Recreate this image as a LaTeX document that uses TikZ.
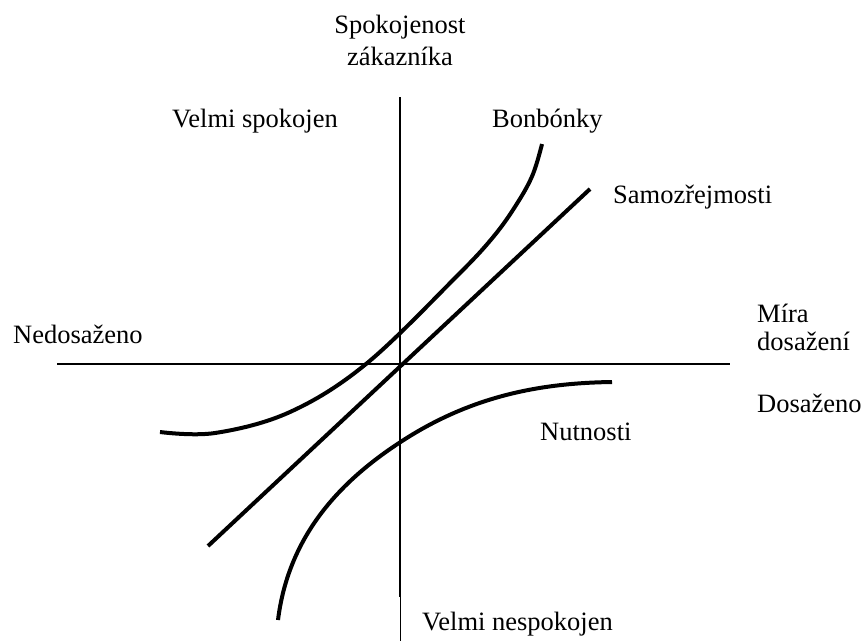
\documentclass[tikz,border=0pt]{standalone}
\usepackage{fontspec}
\setmainfont{Liberation Serif}
\begin{document}
\begin{tikzpicture}[x=1pt,y=-1pt,
  lbl/.style={inner sep=0pt,font=\fontsize{26.5}{32}\selectfont},
  axis/.style={line width=1.6pt,black},
  curve/.style={line width=4pt,black}]
\useasboundingbox (0,0) rectangle (861,641);
% axes
\coordinate (vt) at (400,97);
\coordinate (vm) at (400,597);
\coordinate (vb) at (400,641);
\coordinate (hl) at (57,364);
\coordinate (hr) at (730,364);
\draw[axis] (vt) -- (vm);
\draw[line width=0.7pt] (vm) -- (vb);
\draw[axis] (hl) -- (hr);
% Samozrejmosti line
\coordinate (s1) at (208,546);
\coordinate (s2) at (590,189);
\draw[curve] (s1) -- (s2);
% Bonbonky curve
\draw[curve] plot[smooth,tension=0.6] coordinates {(160,432) (215,433) (290,412) (366,364) (456,277) (494,236) (518,202) (533,174) (542,144)};
% Nutnosti curve
\coordinate (n1) at (278,620);
\coordinate (n2) at (399,443);
\coordinate (n3) at (612,382);
\draw[curve] (n1) .. controls (288,540) and (335,485) .. (n2)
  .. controls (470,396) and (540,383) .. (n3);
% labels
\node[lbl,anchor=base] (t1) at (400,33) {Spokojenost};
\node[lbl,anchor=base] (t2) at (400,65) {zákazníka};
\node[lbl,anchor=base west] (vs) at (172,127) {Velmi spokojen};
\node[lbl,anchor=base west] (bo) at (492,127) {Bonbónky};
\node[lbl,anchor=base west] (sa) at (613,203) {Samozřejmosti};
\node[lbl,anchor=base west] (mi) at (757,322) {Míra};
\node[lbl,anchor=base west] (md) at (757,350) {dosažení};
\node[lbl,anchor=base west] (ne) at (13,343) {Nedosaženo};
\node[lbl,anchor=base west] (do) at (757,412) {Dosaženo};
\node[lbl,anchor=base west] (nu) at (540,440) {Nutnosti};
\node[lbl,anchor=base west] (vn) at (422,630) {Velmi nespokojen};
\end{tikzpicture}
\end{document}
